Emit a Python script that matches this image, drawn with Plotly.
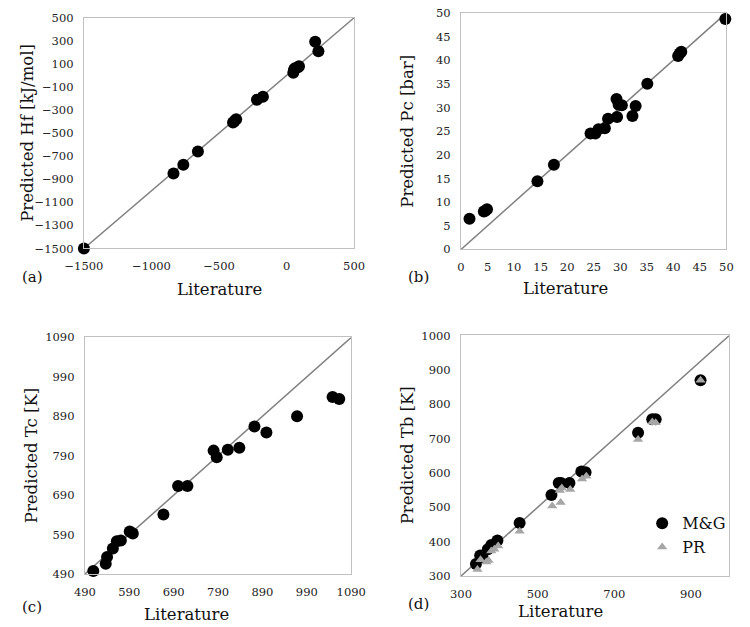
import plotly.graph_objects as go

W, H = 750, 627

# ---------------- data ----------------
a_lit = [-1500, -837, -764, -656, -396, -385, -373, -219, -175, 50, 55, 62, 85, 92, 212, 236]
a_pred = [-1500, -851, -775, -659, -408, -395, -380, -211, -185, 23, 50, 63, 72, 80, 291, 209]

b_lit = [1.6, 4.3, 4.6, 4.9, 14.4, 17.5, 24.4, 25.3, 25.9, 27.1, 27.7, 29.3, 29.4, 29.7, 30.3,
         32.3, 32.9, 35.1, 40.9, 41.2, 41.5, 49.8]
b_pred = [6.5, 8.0, 8.2, 8.5, 14.4, 17.9, 24.5, 24.5, 25.4, 25.6, 27.6, 31.8, 28.0, 30.6, 30.5,
          28.2, 30.3, 35.0, 40.9, 41.4, 41.8, 48.7]

c_lit = [509, 537, 540, 553, 562, 571, 591, 598, 667, 700, 721, 780, 787, 812, 838, 872, 899,
         968, 1048, 1063]
c_pred = [498, 516, 533, 555, 573, 575, 598, 593, 641, 713, 713, 803, 786, 805, 810, 864, 849,
          890, 939, 934]

d_mg_lit = [339, 350, 356, 370, 379, 395, 453, 536, 555, 561, 583, 614, 625, 762, 799, 808, 925]
d_mg_pred = [335, 360, 355, 378, 390, 403, 454, 536, 571, 571, 571, 604, 602, 717, 756, 756, 870]
d_pr_lit = [343, 351, 366, 372, 379, 387, 397, 453, 538, 560, 558, 563, 585, 616, 627, 762, 799,
            808, 925]
d_pr_pred = [319, 347, 341, 345, 373, 378, 387, 430, 504, 514, 549, 556, 552, 582, 590, 697, 748,
             746, 870]

a_range = [-1500, 500]
b_range = [0, 50]
c_range = [490, 1090]
d_range = [300, 1000]

a_xticks = [-1500, -1000, -500, 0, 500]
a_yticks = list(range(-1500, 501, 200))
b_ticks = list(range(0, 51, 5))
c_ticks = list(range(490, 1091, 100))
d_xticks = [300, 500, 700, 900]
d_yticks = list(range(300, 1001, 100))

# ---------------- layout helpers ----------------
FONT = "DejaVu Serif"
GRID = "#c0c0c0"
LINE = "#808080"
GRAY = "#a6a6a6"

def dom_x(x0, x1):
    return [x0 / W, x1 / W]

def dom_y(y0, y1):  # pixel from top
    return [1 - y1 / H, 1 - y0 / H]

boxes = {
    1: (68, 351, 11, 247),
    2: (463, 741, 6, 248),
    3: (69, 348, 338, 580),
    4: (463, 744, 336, 582),
}

fig = go.Figure()

def add_panel(i, xs, ys, rng):
    xa = "x" if i == 1 else f"x{i}"
    ya = "y" if i == 1 else f"y{i}"
    fig.add_trace(go.Scatter(x=rng, y=rng, mode="lines", line=dict(color=LINE, width=1.5),
                             xaxis=xa, yaxis=ya, showlegend=False, hoverinfo="skip"))
    fig.add_trace(go.Scatter(x=xs, y=ys, mode="markers",
                             marker=dict(color="black", size=12, symbol="circle"),
                             xaxis=xa, yaxis=ya, showlegend=False, cliponaxis=False))

add_panel(1, a_lit, a_pred, a_range)
add_panel(2, b_lit, b_pred, b_range)
add_panel(3, c_lit, c_pred, c_range)

# panel d
fig.add_trace(go.Scatter(x=d_range, y=d_range, mode="lines", line=dict(color=LINE, width=1.5),
                         xaxis="x4", yaxis="y4", showlegend=False, hoverinfo="skip"))
fig.add_trace(go.Scatter(x=d_mg_lit, y=d_mg_pred, mode="markers", name="M&G",
                         marker=dict(color="black", size=12, symbol="circle"),
                         xaxis="x4", yaxis="y4", cliponaxis=False))
fig.add_trace(go.Scatter(x=d_pr_lit, y=d_pr_pred, mode="markers", name="PR",
                         marker=dict(color=GRAY, size=9, symbol="triangle-up"),
                         xaxis="x4", yaxis="y4", cliponaxis=False))

tickfont = dict(family=FONT, size=11.5, color="#222")

def axis(dom, rng, ticks, anchor):
    return dict(domain=dom, range=rng, tickvals=ticks, showgrid=False, zeroline=False,
                showline=True, linecolor=GRID, linewidth=1.2, mirror=True, ticks="",
                tickfont=tickfont, anchor=anchor, fixedrange=True, ticklabelstandoff=7)

layout = dict(width=W, height=H, margin=dict(l=0, r=0, t=0, b=0),
              plot_bgcolor="white", paper_bgcolor="white",
              font=dict(family=FONT, color="#111"),
              showlegend=True,
              legend=dict(x=746 / W, y=1 - 570 / H, xanchor="right", yanchor="bottom",
                          font=dict(family=FONT, size=16, color="#111"),
                          bgcolor="rgba(0,0,0,0)", itemsizing="trace",
                          tracegroupgap=0, itemwidth=30))

specs = {
    1: (a_range, a_xticks, a_range, a_yticks),
    2: (b_range, b_ticks, b_range, b_ticks),
    3: (c_range, c_ticks, c_range, c_ticks),
    4: (d_range, d_xticks, d_range, d_yticks),
}
for i, (xr, xt, yr, yt) in specs.items():
    x0, x1, y0, y1 = boxes[i]
    xk = "xaxis" if i == 1 else f"xaxis{i}"
    yk = "yaxis" if i == 1 else f"yaxis{i}"
    ya = "y" if i == 1 else f"y{i}"
    xa = "x" if i == 1 else f"x{i}"
    layout[xk] = axis(dom_x(x0, x1), xr, xt, ya)
    layout[yk] = axis(dom_y(y0, y1), yr, yt, xa)

fig.update_layout(**layout)

titlefont = dict(family=FONT, size=16.5, color="#111")
labelfont = dict(family=FONT, size=15, color="#111")

def ann(text, px, py, font, angle=0):
    fig.add_annotation(text=text, x=px / W, y=1 - py / H, xref="paper", yref="paper",
                       showarrow=False, font=font, textangle=angle,
                       xanchor="center", yanchor="middle")

# x titles
ann("Literature", 210, 289, titlefont)
ann("Literature", 572, 288, titlefont)
ann("Literature", 175, 621, titlefont)
ann("Literature", 567, 618, titlefont)
# y titles
ann("Predicted Hf [kJ/mol]", 8, 129, titlefont, -90)
ann("Predicted Pc [bar]", 407, 127, titlefont, -90)
ann("Predicted Tc [K]", 13, 459, titlefont, -90)
ann("Predicted Tb [K]", 407, 459, titlefont, -90)
# panel labels
ann("(a)", 14, 276, labelfont)
ann("(b)", 418, 276, labelfont)
ann("(c)", 14, 614, labelfont)
ann("(d)", 418, 611, labelfont)

fig.write_html("out.html")
